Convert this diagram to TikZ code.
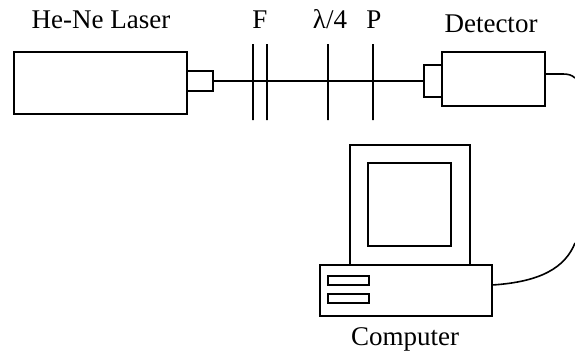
\documentclass[tikz,border=0pt]{standalone}
\usepackage{fontspec}
\setmainfont{Liberation Serif}
\tikzset{
  part/.style={draw, line width=2pt, inner sep=0pt, outer sep=0pt},
  optic/.style={part, minimum width=0pt, minimum height=76pt},
  caption/.style={anchor=base, inner sep=0pt, font=\fontsize{27}{30}\selectfont}
}

\begin{document}
\begin{tikzpicture}[x=1pt, y=-1pt]
  \useasboundingbox (0,0) rectangle (575,354);
  \node [part, minimum width=173pt, minimum height=62pt] (laser) at (100.5,83) {};
  \node [part, minimum width=26pt, minimum height=20pt] (lasertip) at (200,81) {};
  \node [part, minimum width=103pt, minimum height=54pt] (detector) at (493.5,79) {};
  \node [part, minimum width=18pt, minimum height=32pt] (dettip) at (433,81) {};
  \node [optic] (fa) at (253,82) {};
  \node [optic] (fb) at (267,82) {};
  \node [optic] (wave) at (328,82) {};
  \node [optic] (pol) at (373,82) {};
  \node [part, minimum width=120pt, minimum height=120pt] (monitor) at (410,205) {};
  \node [part, minimum width=83pt, minimum height=83pt] (screen) at (409.5,204.5) {};
  \node [part, minimum width=172pt, minimum height=51pt] (case) at (406,290.5) {};
  \node [part, minimum width=41pt, minimum height=9pt] (slota) at (348.5,280.5) {};
  \node [part, minimum width=41pt, minimum height=9pt] (slotb) at (348.5,298.5) {};
  \coordinate (detout) at (545,74);
  \coordinate (caseout) at (492,285);
  \coordinate (cableup) at (575,78);
  \coordinate (cabledown) at (575,243);
  \node [caption] (laserlab) at (101,28) {He-Ne Laser};
  \node [caption] (flab) at (260,28) {F};
  \node [caption] (wavelab) at (330,28) {λ/4};
  \node [caption] (pollab) at (374,28) {P};
  \node [caption] (detlab) at (491,32) {Detector};
  \node [caption] (complab) at (405,345) {Computer};
  \draw [line width=1.6pt] (lasertip.east) -- (dettip.west);
  \draw [line width=1.6pt] (detout) -- (563,74) .. controls (568,74) and (572,75) .. (cableup);
  \draw [line width=1.6pt] (caseout) .. controls (540,282) and (565,268) .. (cabledown);
\end{tikzpicture}
\end{document}
